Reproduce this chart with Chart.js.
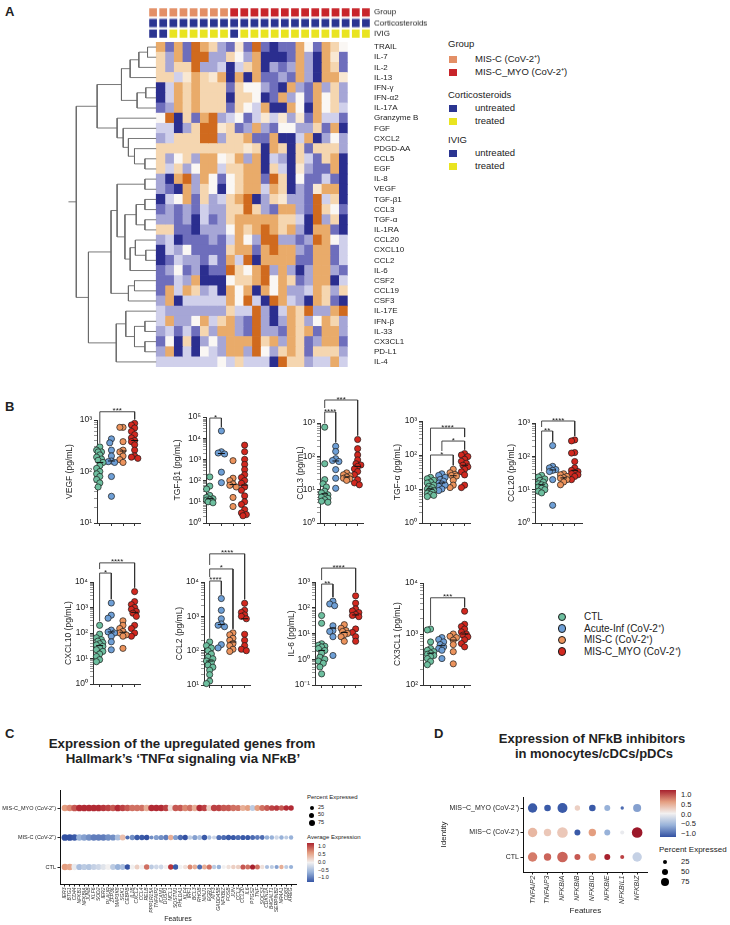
<!DOCTYPE html>
<html><head><meta charset="utf-8">
<script src="https://cdn.jsdelivr.net/npm/chart.js@4.4.1/dist/chart.umd.min.js"></script>
<style>
html,body{margin:0;padding:0;background:#fff}
body{width:730px;height:925px;position:relative;overflow:hidden;font-family:"Liberation Sans",Arial,sans-serif;color:#222}
canvas{position:absolute}
.t{position:absolute;white-space:nowrap;line-height:1}
</style></head><body>
<script>
// ======================= DATA =======================
// ---- Panel A heatmap ----
const heatRows = ['TRAIL','IL-7','IL-2','IL-13','IFN-γ','IFN-α2','IL-17A','Granzyme B','FGF','CXCL2','PDGD-AA','CCL5','EGF','IL-8','VEGF','TGF-β1','CCL3','TGF-α','IL-1RA','CCL20','CXCL10','CCL2','IL-6','CSF2','CCL19','CSF3','IL-17E','IFN-β','IL-33','CX3CL1','PD-L1','IL-4'];
const heatValues = [
[2,-2,2,-2,3,2,1,-1.2,-2,0.5,-2,3,-2,-3,-2,-2,2,0,-2,2,1,0],
[1,-1.2,2,-2,3,3,-1.2,-1.2,1,0,-1.2,2,-3,-3,-3,-2,2,-1.2,-3,2,0.5,-2],
[1,-1.2,1,1,3,-1.2,-1.2,-0.6,-3,-0.6,1,2,-3,-1.2,-2,-1.2,2,-1.2,-3,2,1,-2],
[1,1,-0.6,0.5,2,1,0.5,2,-3,2,-3,2,-2,-2,-1.2,-2,2,-1.2,-3,2,2,0.5],
[-3,-0.6,2,1,2,1,1,1,-2,1,0,0,-1.2,-2,-3,2,-1.2,-2,2,-1.2,1,-1.2],
[-3,-0.6,2,1,2,1,1,1,-3,1,1,0,-3,-2,2,-1.2,0,-2,2,0,1,-1.2],
[-2,-1.2,2,1,2,1,1,1,-2,1,0,-0.6,2,-3,-3,2,0,-3,2,0,1,-0.6],
[0,3,-3,1,-2,2,3,-1.2,-0.6,0,-2,-0.6,0.5,-0.6,0.5,-1.2,0.5,-2,2,-0.6,-0.6,-2],
[-0.6,-0.6,-3,-1.2,1,3,3,0.5,1,-2,-1.2,2,-1.2,-2,0,0,-1.2,-1.2,1,-2,2,-3],
[-1.2,-0.6,1,1,1,3,3,-1.2,1,1,2,-2,-2,2,-3,-3,-0.6,2,-3,-1.2,0,-1.2],
[1,1,1,1,1,1,1,1,1,1,0.5,1,-3,2,1,-3,1,-2,1,1,1,-1.2],
[1,-1.2,0,1,-1.2,2,2,0,0.5,2,-1.2,2,-3,-0.6,-1.2,-3,1,-0.6,-2,1,2,-3],
[1,-0.6,1,-1.2,0,2,2,-0.6,1,1,2,2,-3,1,-0.6,-3,0.5,-1.2,-2,-2,2,-3],
[-1.2,-3,2,3,-1.2,2,0,-2,0,1,2,2,-2,3,1,-3,0,-2,-2,-0.6,-2,-3],
[-1.2,-2,-3,2,-1.2,1,0,-3,0,1,2,2,-0.6,2,1,-3,-1.2,-2,0.5,2,2,-3],
[-3,-0.6,0,2,-2,1,-1.2,-0.6,1,2,3,-3,-1.2,1,0.5,-1.2,-1.2,-2,3,-0.6,1,-3],
[-2,-1.2,-2,-1.2,-2,-0.6,-1.2,-1.2,1,1,3,1,-1.2,-2,2,2,-1.2,-2,3,1,0,-2],
[-1.2,-1.2,-2,-1.2,-3,-0.6,-2,-1.2,1,2,2,2,2,2,1,1,-0.6,-3,3,-1.2,1,-3],
[1,1,-2,-2,-3,-1.2,-1.2,-1.2,0,2,1,2,3,2,1,2,-1.2,-3,2,2,-2,-3],
[-1.2,-0.6,-3,-2,-2,-2,-1.2,-2,-0.6,2,0,-1.2,3,3,-1.2,-1.2,-2,-1.2,3,2,0,-0.6],
[-3,-0.6,-1.2,0,-2,-2,-2,-2,1,2,2,-2,2,3,2,2,-1.2,-2,2,2,-2,-0.6],
[-3,-2,-0.6,-1.2,-1.2,-2,-0.6,-2,2,-0.6,3,-3,2,2,2,2,-2,-2,2,2,-2,-0.6],
[-2,-1.2,0,-2,-1.2,-3,-2,-2,3,1,0,2,3,-1.2,2,-1.2,-3,-1.2,2,2,-1.2,-2],
[-2,-2,-0.6,-1.2,2,-3,-3,-3,0,1,1,2,3,0,2,1,-2,-1.2,2,2,-3,-0.6],
[-2,2,-0.6,2,1,-1.2,-0.6,-3,2,0,2,-3,2,0,2,-1.2,-1.2,-0.6,2,1,-1.2,1],
[-1.2,2,-3,-0.6,-0.6,-0.6,-0.6,-0.6,2,0,3,-0.6,-3,3,2,-0.6,-1.2,-3,2,1,-2,-3],
[-0.6,-1.2,-1.2,-1.2,-1.2,-1.2,-1.2,-1.2,1,-0.6,-0.6,3,-1.2,-3,-0.6,2,1,3,-1.2,-1.2,2,3],
[-0.6,2,-1.2,-1.2,0,2,-0.6,1,2,-1.2,-2,3,-1.2,-3,-1.2,2,1,-1.2,0,2,1,-1.2],
[-1.2,-0.6,-2,-0.6,-2,1,-1.2,2,2,-1.2,-2,3,-1.2,-1.2,-2,2,1,2,-2,2,2,-1.2],
[-2,0,-3,1,-3,-1.2,0,-1.2,2,2,2,3,1,2,-1.2,2,1,-2,-1.2,2,2,-2],
[-1.2,2,-3,-0.6,-3,0,-0.6,-1.2,2,2,-1.2,3,0,-1.2,1,2,1,-2,1,1,1,-1.2],
[-0.6,-0.6,-0.6,-0.6,-0.6,-0.6,-0.6,0,-0.6,1,-0.6,-0.6,-0.6,-3,3,1,1,-1.2,-0.6,-0.6,2,-0.6]
];
const annotRows = ['Group','Corticosteroids','IVIG'];
const annotGroup = ['MIS-C','MIS-C','MIS-C','MIS-C','MIS-C','MIS-C','MIS-C','MIS-C','MYO','MYO','MYO','MYO','MYO','MYO','MYO','MYO','MYO','MYO','MYO','MYO','MYO','MYO'];
const annotCortico = ['u','u','u','u','u','u','u','u','u','u','u','u','u','u','u','u','u','u','u','u','u','u'];
const annotIVIG = ['u','u','t','t','t','t','t','t','u','t','t','t','t','t','t','t','t','t','t','t','t','t'];
// dendrogram linkage: [childA, childB, height]; leaves 0..31, merge k -> node 32+k
const dendroMerges = [
[0,1,1.0],[32,2,2.0],[33,3,3.0],[4,5,1.2],[35,6,2.2],[34,36,4.0],
[11,12,1.3],[10,38,2.5],[9,39,3.2],[8,40,3.8],[7,41,4.5],[37,42,6.8],
[13,14,1.3],[15,16,1.3],[17,18,1.3],[45,46,2.3],[20,21,1.2],[19,48,2.4],[49,22,3.0],[47,50,3.6],[44,51,4.5],
[23,24,2.5],[53,25,3.2],[52,54,5.2],[27,28,1.3],[29,30,1.3],[56,57,2.5],[26,58,3.5],[59,31,4.6],[55,60,7.8],
[43,61,9.2]
];

// ---- Panel B ----
const groupNames = ['CTL','Acute-Inf (CoV-2⁺)','MIS-C (CoV-2⁺)','MIS-C_MYO (CoV-2⁺)'];
const vegf   = [[300,260,240,210,190,175,165,150,130,115,100,90,80,70,60,50,240],[430,360,260,200,160,155,150,80,33],[720,720,380,260,240,200,170,150],[860,800,700,600,520,450,400,380,330,260,200,190,180]];
const tgfb1  = [[150,55,40,20,16,14,12,11,10,9,13],[22000,2300,2000,1800,250,80],[870,130,100,70,60,50,16,6],[4700,2300,1000,580,330,190,140,100,75,50,35,19,10,7.5,4.3,3,2.5,2.2]];
const ccl3   = [[750,60,20,15,12,9,8,7,6.5,6,5.5,5,4.5,4.2],[200,140,85,75,70,40,22,11],[32,28,26,24,22,21,19],[320,170,110,78,60,55,50,42,35,28,20,16,14]];
const tgfa   = [[22,20,18,16,15,13,12,11,10,9.5,9,8.5,8,7.5,7,6.5,6],[28,25,22,19,17,15,14,13,12,10,9],[38,30,27,25,24,18,13,11],[110,100,90,75,65,57,50,45,38,32,26,13,11]];
const ccl20  = [[27,24,21,19,17,15,14,13,12,11,10,9,8],[210,50,45,40,38,35,20,3.4],[30,28,25,23,22,20,17,14],[310,290,130,125,70,45,38,35,32,30,28,25,20]];
const cxcl10 = [[200,90,65,55,48,42,38,34,30,26,22,19,15,12,9,7.5],[1500,500,380,130,110,100,75,45,22],[300,200,150,115,100,85,75,25],[4200,1700,1300,1000,850,700,600,450,200,150,100,75]];
const ccl2   = [[180,140,120,100,80,65,58,50,45,38,33,27,20,13,11],[3300,1500,850,600,550,500,150,120],[330,290,230,200,160,140,110,95],[2400,1500,1300,1100,1000,850,300,200,140,110,100]];
const il6    = [[50,25,4,3.5,3.2,3,2.6,2.2,1.7,1.2,1,0.85,0.7,0.5,0.27],[180,140,120,20,13,12,7.5,1.4],[22,16,13,12,10,9,7.5,5],[290,150,90,75,65,55,50,45,15,11,7.5,5]];
const cx3cl1 = [[1250,1200,700,520,480,450,420,400,380,360,330,290,250],[850,780,700,620,560,520,480,330],[1000,900,850,760,620,450,260],[2800,1550,1400,1250,1100,1000,950,880,770,650,560]];
// significance: [groupA, groupB, bracket level (log10), label]
const vegfSig   = [[0,3,3.16,'***']];
const tgfb1Sig  = [[0,1,4.95,'*']];
const ccl3Sig   = [[0,1,3.33,'****'],[0,3,3.69,'***']];
const tgfaSig   = [[0,3,2.79,'****'],[1,3,2.41,'*'],[0,2,2.0,'*']];
const ccl20Sig  = [[0,1,2.76,'**'],[0,3,3.06,'****']];
const cxcl10Sig = [[0,1,4.35,'*'],[0,3,4.75,'****']];
const ccl2Sig   = [[0,1,4.03,'****'],[0,2,4.38,'*'],[0,3,4.82,'****']];
const il6Sig    = [[0,1,2.92,'**'],[0,3,3.54,'****']];
const cx3cl1Sig = [[0,3,3.71,'***']];
// y axis decades [low, high] (tick labels 10^low .. 10^high)
const vegfAxis=[1,3], tgfb1Axis=[0,5], ccl3Axis=[0,3], tgfaAxis=[0,3], ccl20Axis=[0,3], cxcl10Axis=[0,4], ccl2Axis=[1,4], il6Axis=[-1,3], cx3cl1Axis=[2,4];

// ---- Panel C ----
const cGenes = ['IER3','BTG1','CD44','NFKB1','NFKBIA','JUNB','KLF6','SOD2','IER2','PLAUR','ZFP36','MAP3K8','SGK1','CEBPB','IL1B','CXCL2','CCL4','RELB','PPP1R15A','TNFAIP2','ICAM1','DUSP1','MCL1','SQSTM1','PHLDA1','KLF4','IRF1','BCL3','RHOB','NINJ1','EGR1','ATF3','GADD45B','NFKBIZ','FOSB','JUN','CCL3','CCL20','IL6','PTGS2','TNF','SOCS3','CDKN1A','B4GALT1','SERPINB2','NR4A1','CD83','AREG'];
const cIdent = ['CTL','MIS-C (CoV-2⁺)','MIS-C_MYO (CoV-2⁺)'];
const cExpCTL  = [0.5,0.45,-0.05,-0.4,-0.3,-0.35,-0.25,-0.2,-0.1,0,-0.3,-0.5,-0.4,-1.1,0,0.2,0,0.7,-0.3,-0.2,-0.2,0,0.95,-1,0,0.1,0.6,0.4,-0.9,0.4,0.7,-0.3,-0.5,0,0.1,0.2,0.2,0.8,0.7,1.1,0.7,0.1,-0.4,-0.3,-0.6,0.4,-0.3,-0.5];
const cExpMISC = [-1.1,-1.1,-1,-0.5,-0.6,-0.7,-0.8,-0.8,-0.8,-0.7,-0.7,-0.4,0.3,-0.9,-0.7,-1,-1,-1.1,-0.7,-0.6,-0.7,-0.8,0.4,-0.6,-0.9,-1.1,-0.3,-0.6,-0.4,-1,-0.4,-0.2,-0.9,-0.9,-1,-1,-0.9,-1,-1,-0.9,-0.8,-0.9,-0.5,-0.5,-0.2,-0.5,-0.3,-0.5];
const cExpMYO  = [0.5,0.6,0.8,1,1,1,1,1,0.95,0.9,0.8,1,0.9,0.8,0.7,0.7,0.7,0.4,1,1,1,0.9,0.1,0.8,0.8,0.6,0.7,0.4,1,0.9,0.2,0.9,0.9,0.8,0.8,0.7,0.7,0.4,0.5,-0.3,0.5,0.7,0.8,0.9,0.95,0.8,1,1];
const cPctCTL  = [88,86,82,80,80,80,78,78,76,75,74,72,70,60,55,50,50,65,45,45,45,40,60,62,40,40,50,48,50,50,55,35,40,30,35,40,40,55,50,55,50,35,30,30,30,35,30,30];
const cPctMISC = [92,92,90,85,85,85,85,84,84,82,80,78,75,30,60,60,62,65,25,55,55,58,60,55,58,60,35,55,50,62,35,30,55,55,58,56,55,55,52,50,48,45,40,40,35,38,25,35];
const cPctMYO  = [90,90,92,92,92,92,92,92,90,90,88,92,90,88,86,86,85,84,90,90,90,88,82,86,86,84,84,82,88,86,80,86,86,84,84,82,80,78,76,72,74,72,70,68,66,64,62,60];

// ---- Panel D ----
const dGenes = ['TNFAIP2','TNFAIP3','NFKBIA','NFKBIB','NFKBID','NFKBIE','NFKBIL1','NFKBIZ'];
const dIdent = ['CTL','MIS−C (CoV-2⁺)','MIS−C_MYO (CoV-2⁺)'];
const dExpCTL  = [0.65,0.75,0.75,0.8,0.5,1.1,0.9,-0.25];
const dExpMISC = [0.35,0.25,0.25,-1.0,0.5,-0.5,-0.05,1.2];
const dExpMYO  = [-1.0,-1.0,-1.0,0.2,-1.0,-0.5,-0.9,-0.6];
const dPctCTL  = [85,60,100,42,60,42,18,85];
const dPctMISC = [85,60,100,42,60,42,18,100];
const dPctMYO  = [85,50,92,35,50,42,10,68];

// ======================= STYLE / LAYOUT =======================
const FONT = '"Liberation Sans", Arial, sans-serif';
Chart.defaults.font.family = FONT;
Chart.defaults.color = '#222';
Chart.defaults.animation = false;
Chart.defaults.responsive = false;
Chart.defaults.plugins.legend.display = false;
Chart.defaults.plugins.tooltip.enabled = false;

const groupColors = ['#6dbf9f','#6e9fd6','#ec935c','#d2281f'];
const heatStops = [[-3,[43,46,143]],[-2,[110,110,188]],[-1.2,[166,166,214]],[-0.6,[208,208,235]],[0,[250,247,244]],[0.5,[249,232,210]],[1,[245,214,176]],[2,[233,171,106]],[3,[208,106,30]]];
const rdbuStops = [[-1.2,[44,72,156]],[-1,[58,90,168]],[-0.5,[152,178,217]],[0,[242,240,240]],[0.5,[228,158,128]],[1,[178,42,52]],[1.25,[150,20,38]]];
const annotColors = {'MIS-C':'#e38f66','MYO':'#c8242a','u':'#2b3591','t':'#e9e420'};

function rgb(a){return 'rgb('+a.map(v=>Math.round(v)).join(',')+')';}
function ramp(stops,v){
  if(v<=stops[0][0]) return rgb(stops[0][1]);
  for(let i=1;i<stops.length;i++){ if(v<=stops[i][0]){ const t=(v-stops[i-1][0])/(stops[i][0]-stops[i-1][0]); const a=stops[i-1][1],b=stops[i][1]; return rgb(a.map((x,k)=>x+(b[k]-x)*t)); } }
  return rgb(stops[stops.length-1][1]);
}
function canvas(left,top,w,h){ const c=document.createElement('canvas'); c.width=w;c.height=h; c.style.left=left+'px';c.style.top=top+'px';c.style.width=w+'px';c.style.height=h+'px'; document.body.appendChild(c); return c; }
function txt(s,x,y,o={}){ const d=document.createElement('div'); d.className='t'; d.textContent=s;
  const tx=o.align==='center'?'-50%':(o.align==='right'?'-100%':'0');
  d.style.cssText+=`left:${x}px;top:${y}px;font-size:${o.size||9}px;font-weight:${o.bold?'bold':'normal'};font-style:${o.italic?'italic':'normal'};transform:translate(${tx},-50%)`+(o.rot?` rotate(${o.rot}deg)`:'');
  document.body.appendChild(d); return d; }
function box(x,y,w,h,bg,extra=''){ const d=document.createElement('div'); d.style.cssText=`position:absolute;left:${x}px;top:${y}px;width:${w}px;height:${h}px;background:${bg};${extra}`; document.body.appendChild(d); return d; }

// panel letters
txt('A',5,11,{size:13,bold:true});
txt('B',5,406,{size:13,bold:true});
txt('C',5,733,{size:13,bold:true});
txt('D',434,733,{size:13,bold:true});

// ======================= PANEL A =======================
const HM = {canvasLeft:40, cellLeft:148, cellRight:371, axisW:69, top:42, height:325, annTop:7, annHeight:31.5, canvasW:400};
const nCols = heatValues[0].length;
const pxPerCol = (HM.cellRight-HM.cellLeft)/nCols;
const xMinHM = -(HM.cellLeft-HM.canvasLeft)/pxPerCol;
function rightAxis(extra){ return Object.assign({type:'category',position:'right',stacked:true,offset:true,
  grid:{display:false,drawTicks:false},border:{display:false},
  ticks:{autoSkip:false,padding:3,font:{size:8},color:'#222'},
  afterFit(s){s.width=HM.axisW;s.paddingTop=0;s.paddingBottom=0;}},extra||{}); }

// dendrogram segments from linkage
function dendroSegs(merges,n){
  const Y=[],H=[]; for(let i=0;i<n;i++){Y[i]=i;H[i]=0;}
  const segs=[];
  merges.forEach(([a,b,h],k)=>{ const id=n+k; Y[id]=(Y[a]+Y[b])/2; H[id]=h;
    segs.push([{x:-H[a],y:Y[a]},{x:-h,y:Y[a]},{x:-h,y:Y[b]},{x:-H[b],y:Y[b]}]); });
  const root=n+merges.length-1;
  segs.push([{x:-H[root],y:Y[root]},{x:-H[root]-0.9,y:Y[root]}]);
  return segs;
}
const heatDatasets = heatValues[0].map((_,j)=>({
  type:'bar', indexAxis:'y', xAxisID:'x', yAxisID:'y', stack:'s',
  data: heatRows.map(()=>1),
  backgroundColor: heatRows.map((_,i)=>ramp(heatStops,heatValues[i][j])),
  borderWidth:0, barPercentage:1, categoryPercentage:1, order:2
}));
const dendroDatasets = dendroSegs(dendroMerges,heatRows.length).map(seg=>({
  type:'line', indexAxis:'x', xAxisID:'x', yAxisID:'yd', data:seg,
  borderColor:'#6a6a6a', borderWidth:0.9, pointRadius:0, tension:0, fill:false, clip:false, order:1
}));
new Chart(canvas(HM.canvasLeft,HM.top,HM.canvasW,HM.height),{
  type:'bar',
  data:{labels:heatRows, datasets:[...heatDatasets,...dendroDatasets]},
  options:{layout:{padding:0},
    scales:{
      x:{type:'linear',min:xMinHM,max:nCols,stacked:true,display:false},
      y:rightAxis(),
      yd:{type:'linear',min:-0.5,max:heatRows.length-0.5,reverse:true,display:false}
    }}
});
// annotation bars
const annotData=[annotGroup,annotCortico,annotIVIG];
new Chart(canvas(HM.canvasLeft,HM.annTop,HM.canvasW,HM.annHeight),{
  type:'bar',
  data:{labels:annotRows, datasets:annotGroup.map((_,j)=>({
    indexAxis:'y', xAxisID:'x', yAxisID:'y', stack:'s', data:annotRows.map(()=>1),
    backgroundColor:annotData.map(r=>annotColors[r[j]]),
    borderColor:'#ffffff', borderWidth:1.2, borderSkipped:false, inflateAmount:0,
    barPercentage:1, categoryPercentage:1 }))},
  options:{layout:{padding:0}, indexAxis:'y',
    scales:{ x:{type:'linear',min:xMinHM,max:nCols,stacked:true,display:false}, y:rightAxis() }}
});
// legend A
const LA={x:448, sq:449, lx:475};
txt('Group',LA.x,44,{size:9.5});
box(LA.sq,55.5,8,7,annotColors['MIS-C']); txt('MIS-C (CoV-2⁺)',LA.lx,59,{size:9.5});
box(LA.sq,68.5,8,7,annotColors['MYO']); txt('MIS-C_MYO (CoV-2⁺)',LA.lx,72,{size:9.5});
txt('Corticosteroids',LA.x,95,{size:9.5});
box(LA.sq,104.5,8,7,annotColors['u']); txt('untreated',LA.lx,108,{size:9.5});
box(LA.sq,117.5,8,7,annotColors['t']); txt('treated',LA.lx,121,{size:9.5});
txt('IVIG',LA.x,140,{size:9.5});
box(LA.sq,149.5,8,7,annotColors['u']); txt('untreated',LA.lx,153,{size:9.5});
box(LA.sq,162.5,8,7,annotColors['t']); txt('treated',LA.lx,166,{size:9.5});

// ======================= PANEL B =======================
const SUP={'-':'⁻','0':'⁰','1':'¹','2':'²','3':'³','4':'⁴','5':'⁵','6':'⁶','7':'⁷','8':'⁸','9':'⁹'};
const sup = e => String(e).split('').map(c=>SUP[c]).join('');
const isDecade = v => { const e=Math.round(Math.log10(v)); return Math.abs(v/Math.pow(10,e)-1)<1e-6; };
const median = a => { const s=[...a].sort((p,q)=>p-q), m=s.length>>1; return s.length%2?s[m]:Math.sqrt(s[m-1]*s[m]); };

const starPlugin={id:'stars',afterDatasetsDraw(chart){
  const o=chart.options.plugins.stars; if(!o) return;
  const {ctx}=chart, xs=chart.scales.x, ys=chart.scales.y;
  ctx.save(); ctx.font='8px '+FONT; ctx.fillStyle='#222'; ctx.textAlign='center'; ctx.textBaseline='alphabetic';
  o.sigs.forEach(s=>{ const x=(xs.getPixelForValue(s[0])+xs.getPixelForValue(s[1]))/2; const y=ys.getPixelForValue(Math.pow(10,s[2])); ctx.fillText(s[3],x,y+1.5); });
  ctx.restore(); }};

// layout: y axis x, top (max decade) y, bottom y, first & last category x, x-axis end, title offset
const bPlots = [
 {name:'VEGF (pg/mL)',   data:vegf,   sig:vegfSig,   axis:vegfAxis,   ax:97,  top:420, bot:523, c0:100, c3:137, end:143, toff:27},
 {name:'TGF-β1 (pg/mL)', data:tgfb1,  sig:tgfb1Sig,  axis:tgfb1Axis,  ax:206, top:417, bot:523, c0:210, c3:247, end:253, toff:28},
 {name:'CCL3 (pg/mL)',   data:ccl3,   sig:ccl3Sig,   axis:ccl3Axis,   ax:320, top:423, bot:523, c0:325, c3:360, end:366, toff:19},
 {name:'TGF-α (pg/mL)',  data:tgfa,   sig:tgfaSig,   axis:tgfaAxis,   ax:422, top:421, bot:523, c0:431, c3:467, end:473, toff:24},
 {name:'CCL20 (pg/mL)',  data:ccl20,  sig:ccl20Sig,  axis:ccl20Axis,  ax:535, top:423, bot:523, c0:542, c3:577, end:585, toff:23},
 {name:'CXCL10 (pg/mL)', data:cxcl10, sig:cxcl10Sig, axis:cxcl10Axis, ax:93,  top:582, bot:684, c0:100, c3:137, end:143, toff:24},
 {name:'CCL2 (pg/mL)',   data:ccl2,   sig:ccl2Sig,   axis:ccl2Axis,   ax:204, top:582, bot:685, c0:210, c3:247, end:253, toff:24},
 {name:'IL-6 (pg/mL)',   data:il6,    sig:il6Sig,    axis:il6Axis,    ax:315, top:582, bot:685, c0:322, c3:358, end:364, toff:23},
 {name:'CX3CL1 (pg/mL)', data:cx3cl1, sig:cx3cl1Sig, axis:cx3cl1Axis, ax:423, top:583, bot:685, c0:431, c3:467, end:473, toff:25}
];
const B_AXW=44, B_PADT=42, B_XH=6, PT_R=3.1;

// compact beeswarm: small horizontal offsets (px) so stacked points overlap partly
function swarm(vals, g, pxDec, pxCat){
  const pts=[...vals].sort((a,b)=>b-a).map(v=>({v,py:Math.log10(v)*pxDec}));
  const placed=[], D=4.2, cands=[0,-1.8,1.8,-3.4,3.4];
  return pts.map(p=>{
    let best=0,bestD=-1;
    for(const c of cands){ const d=placed.length?Math.min(...placed.map(q=>Math.hypot(q.o-c,q.py-p.py))):99;
      if(d>=D){best=c;bestD=d;break;} if(d>bestD){bestD=d;best=c;} }
    placed.push({o:best,py:p.py});
    return {x:g+best/pxCat,y:p.v};
  });
}

bPlots.forEach(P=>{
  const [lo,hi]=P.axis;
  const plotH=P.bot-P.top, pxDec=plotH/(hi-lo), pitch=(P.c3-P.c0)/3;
  const xmin=-(P.c0-P.ax)/pitch, xmax=3+(P.end-P.c3)/pitch;
  const W=B_AXW+(P.end-P.ax)+2, H=B_PADT+plotH+B_XH;
  const ds=[];
  const gapLog=4/pxDec;
  P.sig.forEach(s=>{
    const [a,b,L]=s;
    const armEnd=g=>{ let m=Math.log10(Math.max(...P.data[g]));
      P.sig.forEach(o=>{ if(o!==s && o[2]<L && o[0]<=g && o[1]>=g) m=Math.max(m,o[2]); });
      return Math.pow(10,Math.min(m+gapLog,L-0.5/pxDec)); };
    ds.push({type:'line',data:[{x:a,y:armEnd(a)},{x:a,y:Math.pow(10,L)},{x:b,y:Math.pow(10,L)},{x:b,y:armEnd(b)}],
      borderColor:'#333',borderWidth:0.9,pointRadius:0,tension:0,clip:false,order:0});
  });
  P.data.forEach((vals,g)=>{ const m=median(vals);
    ds.push({type:'line',data:[{x:g-0.3,y:m},{x:g+0.3,y:m}],borderColor:'#111',borderWidth:1,pointRadius:0,clip:false,order:0}); });
  P.data.forEach((vals,g)=>{
    ds.push({type:'scatter',data:swarm(vals,g,pxDec,pitch),pointRadius:PT_R,pointBackgroundColor:groupColors[g],
      pointBorderColor:'#1b1b1b',pointBorderWidth:0.7,clip:false,order:1});
  });
  new Chart(canvas(P.ax-B_AXW,P.top-B_PADT,W,H),{
    type:'scatter', data:{datasets:ds}, plugins:[starPlugin],
    options:{layout:{padding:{top:B_PADT,left:0,right:2,bottom:0}},
      plugins:{stars:{sigs:P.sig}},
      scales:{
        x:{type:'linear',min:xmin,max:xmax,
          afterBuildTicks(s){s.ticks=[0,1,2,3].map(v=>({value:v}));},
          ticks:{callback:()=> '',padding:0,autoSkip:false},
          grid:{drawOnChartArea:false,tickLength:3,color:'#333',tickWidth:1},
          border:{color:'#333',width:1},
          afterFit(s){s.height=B_XH;s.paddingLeft=0;s.paddingRight=0;}},
        y:{type:'logarithmic',min:Math.pow(10,lo),max:Math.pow(10,hi),
          afterBuildTicks(s){const t=[];for(let e=lo;e<=hi;e++){t.push({value:Math.pow(10,e)}); if(e<hi) for(let m=2;m<=9;m++) t.push({value:m*Math.pow(10,e)});} s.ticks=t;},
          ticks:{autoSkip:false,padding:2,font:{size:8.5},color:'#222',
            callback:v=> isDecade(v)?'10'+sup(Math.round(Math.log10(v))):''},
          grid:{drawOnChartArea:false,tickLength:3,tickColor:'#333',
            tickWidth:c=> (c.tick && isDecade(c.tick.value))?1:0.5},
          border:{color:'#333',width:1},
          title:{display:true,text:P.name,font:{size:8.5},color:'#222',padding:{top:(B_AXW-P.toff)-5.1,bottom:0}},
          afterFit(s){s.width=B_AXW;s.paddingTop=0;s.paddingBottom=0;}}
      }}
  });
});
// legend B
const LB={cx:562, lx:584, ys:[617,628.5,640,651.5]};
groupNames.forEach((n,i)=>{
  box(LB.cx-4.3,LB.ys[i]-4.3,8.6,8.6,groupColors[i],'border-radius:50%;box-sizing:border-box;border:0.8px solid #1b1b1b;');
  txt(n,LB.lx,LB.ys[i],{size:10});
});

// ======================= PANEL C & D (dot plots) =======================
function dotData(genes,exps,pcts,rOf){ const out=[]; exps.forEach((row,yi)=>row.forEach((v,xi)=>out.push({x:xi,y:yi,r:rOf(pcts[yi][xi]),v}))); return out; }
function dotChart(L,genes,idents,exps,pcts,rOf,f){
  const pitchX=(L.cLast-L.cFirst)/(genes.length-1), pitchY=(L.rowBottom-L.rowTop)/2;
  new Chart(canvas(L.left,L.top,L.w,L.h),{
    type:'bubble',
    data:{datasets:[{data:dotData(genes,exps,pcts,rOf),borderWidth:0,
      backgroundColor:c=>ramp(rdbuStops,c.raw?c.raw.v:0)}]},
    options:{layout:{padding:{top:L.areaTop-L.top,left:0,right:L.left+L.w-L.areaRight,bottom:0}},
      scales:{
        x:{type:'linear',min:-(L.cFirst-L.ax)/pitchX,max:genes.length-1+(L.areaRight-L.cLast)/pitchX,
          afterBuildTicks(s){s.ticks=genes.map((_,i)=>({value:i}));},
          ticks:{autoSkip:false,minRotation:90,maxRotation:90,padding:1,font:{size:f.xt,style:'italic'},color:'#333',callback:v=>genes[v]},
          grid:{drawOnChartArea:false,tickLength:2.5,color:'#222'},border:{color:'#111',width:1},
          title:{display:true,text:'Features',font:{size:f.title},color:'#222',padding:{top:0,bottom:f.tb}},
          afterFit(s){s.height=L.top+L.h-L.axisY;s.paddingLeft=0;s.paddingRight=0;}},
        y:{type:'linear',min:-(L.axisY-L.rowBottom)/pitchY,max:2+(L.rowTop-L.areaTop)/pitchY,
          afterBuildTicks(s){s.ticks=[0,1,2].map(v=>({value:v}));},
          ticks:{autoSkip:false,padding:1.5,font:{size:f.yt},color:'#222',callback:v=>idents[v]},
          grid:{drawOnChartArea:false,tickLength:2.5,color:'#222'},border:{color:'#111',width:1},
          title:{display:!!f.ytitle,text:f.ytitle||'',font:{size:f.title},color:'#222',padding:{top:f.ytp||0,bottom:0}},
          afterFit(s){s.width=L.ax-L.left;s.paddingTop=0;s.paddingBottom=0;}}
      }}
  });
}
// Panel C
txt('Expression of the upregulated genes from',182,744,{size:13.3,bold:true,align:'center'});
txt('Hallmark’s ‘TNFα signaling via NFκB’',183,759,{size:13.3,bold:true,align:'center'});
dotChart({left:0,top:775,w:300,h:150,ax:60,areaTop:790,areaRight:300,axisY:884,cFirst:65,cLast:295,rowTop:808,rowBottom:867},
  cGenes,cIdent,[cExpCTL,cExpMISC,cExpMYO],[cPctCTL,cPctMISC,cPctMYO],p=>1.5+0.02*p,{xt:5,yt:5.5,title:7,tb:2});
txt('Percent Expressed',307,797,{size:6});
[[25,808],[50,815],[75,822.7]].forEach(([p,y])=>{ const r=1.5+0.02*p; box(311.5-r,y-r,2*r,2*r,'#000','border-radius:50%;'); txt(String(p),318,y,{size:5.5}); });
txt('Average Expression',307,837,{size:6});
box(307,843,7,39,'linear-gradient(to bottom,'+[1.05,0.5,0,-0.5,-1.05].map(v=>ramp(rdbuStops,v)).join(',')+')');
[['1.0',847],['0.5',854.7],['0.0',862.7],['−0.5',870.5],['−1.0',878.3]].forEach(([s,y])=>txt(s,318,y,{size:5.5}));

// Panel D
txt('Expression of NFkB inhibitors',592,738,{size:13,bold:true,align:'center'});
txt('in monocytes/cDCs/pDCs',594,753,{size:13,bold:true,align:'center'});
dotChart({left:435,top:785,w:218,h:131,ax:523,areaTop:797,areaRight:653,axisY:872,cFirst:533,cLast:642,rowTop:808,rowBottom:857},
  dGenes,dIdent,[dExpCTL,dExpMISC,dExpMYO],[dPctCTL,dPctMISC,dPctMYO],p=>1.3+0.04*p,{xt:7,yt:7,title:8,tb:0,ytitle:'Identity',ytp:4.2});
box(660,790,16,47,'linear-gradient(to bottom,'+[1.1,0.5,0,-0.5,-1.1].map(v=>ramp(rdbuStops,v)).join(',')+')');
[['1.0',795],['0.5',805],['0.0',814.5],['−0.5',824],['−1.0',833.5]].forEach(([s,y])=>txt(s,681,y,{size:7.5}));
txt('Percent Expressed',659,850,{size:8});
[[25,862],[50,872],[75,882]].forEach(([p,y])=>{ const r=1.3+0.04*p; box(665-r,y-r,2*r,2*r,'#000','border-radius:50%;'); txt(String(p),681,y,{size:7.5}); });
</script>
</body></html>
